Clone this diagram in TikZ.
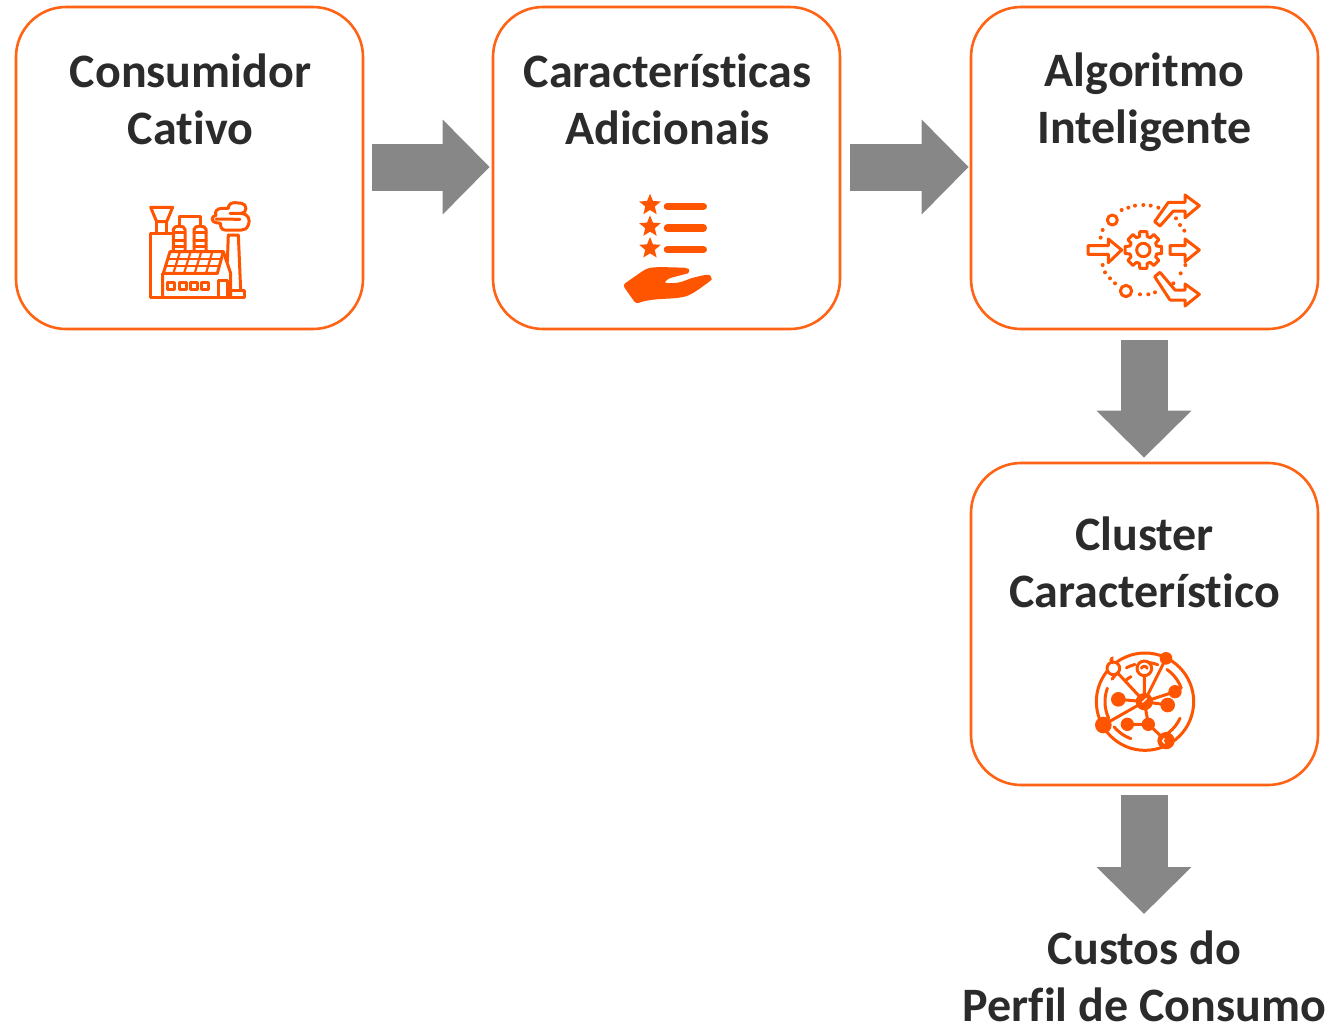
\documentclass[tikz,border=0pt]{standalone}
\usepackage{fontspec}
\setmainfont[Ligatures={NoCommon}]{Carlito}
\usetikzlibrary{arrows.meta}
\definecolor{boxorange}{HTML}{FF6314}
\definecolor{iconorange}{HTML}{FF5500}
\definecolor{textdark}{HTML}{2B2B2B}
\definecolor{arrowgray}{HTML}{878787}
\tikzset{
  x=1pt,y=-1pt,
  procbox/.style={draw=boxorange,line width=2.6pt,rounded corners=50pt,fill=white,minimum width=347pt,minimum height=322pt,inner sep=0pt},
  boxlabel/.style={font=\fontsize{48}{57}\selectfont\bfseries,text=textdark,align=center,inner sep=0pt},
  blockarrow/.style={draw=arrowgray,line width=47pt,-{Triangle[length=47pt,width=92pt,fill=arrowgray,color=arrowgray]}},
  icon/.style={draw=iconorange,line width=3pt,line join=round,line cap=round},
  iconthin/.style={icon,line width=2.2pt},
  dotmark/.style={fill=iconorange,draw=none},
}
\begin{document}
\begin{tikzpicture}
\useasboundingbox (0,0) rectangle (1327,1026);
\node[procbox] (consumidor) at (189.5,168) {};
\node[procbox] (caracteristicas) at (666.5,168) {};
\node[procbox] (algoritmo) at (1144.5,168) {};
\node[procbox] (cluster) at (1144.5,624) {};
\node[boxlabel] (tconsumidor) at (190.5,99.5) {Consumidor\\Cativo};
\node[boxlabel] (tcaract) at (667.5,99.5) {Características\\Adicionais};
\node[boxlabel] (talgo) at (1144.5,102.5) {Algoritmo\\Inteligente};
\node[boxlabel] (tcluster) at (1144.5,562) {Cluster\\Característico};
\node[boxlabel] (custos) at (1144.5,976) {Custos do\\Perfil de Consumo};
\coordinate (custostop) at (1144.5,930);

\draw[blockarrow,shorten <=8pt,shorten >=2pt] ([yshift=1pt]consumidor.east) -- ([yshift=1pt]caracteristicas.west);
\draw[blockarrow,shorten <=9pt,shorten >=1pt] ([yshift=1pt]caracteristicas.east) -- ([yshift=1pt]algoritmo.west);
\draw[blockarrow,shorten <=10pt,shorten >=4pt] ([xshift=-0.5pt]algoritmo.south) -- ([xshift=-0.5pt]cluster.north);
\draw[blockarrow,shorten <=9pt,shorten >=16pt] ([xshift=-0.5pt]cluster.south) -- ([xshift=-0.5pt]custostop);

% factory
\begin{scope}[shift={(130,190)},scale=1/3]
\draw[icon] (62,52) -- (128,52) -- (110,95) -- (80,95) -- cycle;
\draw[icon] (80,95) -- (80,130) (110,95) -- (110,130);
\draw[icon] (125,130) -- (60,130) -- (60,322) -- (342,322) -- (342,300) -- (305,300);
\draw[icon] (130,182) -- (130,118) .. controls (130,105) and (165,105) .. (165,118) -- (165,182);
\draw[icon] (192,182) -- (192,118) .. controls (192,105) and (228,105) .. (228,118) -- (228,182);
\draw[icon] (130,128) -- (165,128) (130,150) -- (165,150) (130,168) -- (165,168);
\draw[icon] (192,128) -- (228,128) (192,150) -- (228,150) (192,168) -- (228,168);
\draw[icon] (147,105) -- (147,78) -- (210,78) -- (210,105);
\draw[icon] (120,185) -- (280,185) -- (262,250) -- (100,250) -- cycle;
\draw[iconthin] (113,207) -- (273,207) (106,228) -- (268,228);
\draw[iconthin] (150,185) -- (130,250) (182,185) -- (162,250) (214,185) -- (194,250) (247,185) -- (228,250);
\draw[icon] (98,250) -- (98,322) (280,185) -- (302,250) -- (302,322);
\draw[icon] (265,322) -- (265,270) -- (292,270) -- (292,322);
\foreach \wx in {113,147,180,215} \draw[icon] (\wx,278) rectangle +(21,20);
\draw[icon] (295,135) -- (325,135) -- (332,300);
\draw[icon] (295,135) -- (292,215);
\draw[icon] (295,55) .. controls (295,42) and (305,38) .. (315,38) -- (335,40) .. controls (352,42) and (352,68) .. (335,70)
  .. controls (355,72) and (362,90) .. (355,105) .. controls (350,116) and (345,120) .. (335,120) -- (285,120)
  .. controls (275,120) and (270,110) .. (272,100) -- (258,98) .. controls (243,96) and (243,78) .. (258,76)
  .. controls (252,65) and (262,55) .. (275,55) -- (295,55);
\draw[icon] (258,87) -- (330,88) (300,70) -- (335,70);
\end{scope}

% stars and hand
\begin{scope}[shift={(610,190)},scale=1/3]
\foreach \sy in {45,110,175} {
  \begin{scope}[shift={(120,\sy)}]
  \fill[iconorange] (-90:34) -- (-54:15) -- (-18:34) -- (18:15) -- (54:34) -- (90:15) -- (126:34) -- (162:15) -- (198:34) -- (234:15) -- cycle;
  \end{scope}
  \draw[iconorange,line width=7.3pt,line cap=round] (172,\sy+4) -- (280,\sy+4);
}
\fill[iconorange,rounded corners=3pt] (38,285) -- (98,243) .. controls (125,228) and (160,232) .. (230,233)
  .. controls (240,240) and (235,250) .. (225,252) .. controls (205,258) and (185,262) .. (168,270)
  .. controls (165,276) and (170,279) .. (180,279) .. controls (205,280) and (225,272) .. (245,264)
  -- (288,254) .. controls (302,255) and (306,268) .. (298,275) .. controls (270,295) and (245,315) .. (215,322)
  .. controls (170,328) and (120,325) .. (78,342) -- cycle;
\end{scope}

% gear and arrows
\begin{scope}[shift={(1080,185)},scale=1/3]
\begin{scope}[shift={(190,195)}]
\draw[icon] (11:56) \foreach \t in {0,45,...,315} {
   -- (\t+11:56) -- (\t+16:42) -- (\t+29:42) -- (\t+34:56)} -- cycle;
\draw[icon] (0,0) circle (20);
\end{scope}
\draw[icon] (24,182) -- (85,182) -- (85,162) -- (125,195) -- (85,233) -- (85,208) -- (24,208) -- cycle;
\draw[icon] (270,182) -- (315,182) -- (315,162) -- (358,195) -- (315,230) -- (315,208) -- (270,208) -- cycle;
\draw[icon] (224,110) -- (265,52) -- (315,52) -- (315,30) -- (358,62) -- (315,98) -- (315,78) -- (280,78) -- (240,123) -- cycle;
\draw[icon] (224,275) -- (240,262) -- (285,315) -- (315,315) -- (315,297) -- (358,328) -- (315,363) -- (315,345) -- (270,345) -- cycle;
\draw[icon] (97,105) circle (15) (138,318) circle (17);
\foreach \dx/\dy in {125/75,145/68,165/62,190/60,212/62,235/68,288/100,300/120,313/137,68/135,62/158,68/240,75/262,90/280,105/295,180/328,205/328,225/322,316/240,302/265,280/295}
  \fill[dotmark] (\dx,\dy) circle (6);
\end{scope}

% cluster
\begin{scope}[shift={(1085,645)},scale=1/3]
\draw[icon] (180,170) circle (146);
\begin{scope}[shift={(178,170)}]
\draw[icon] (0,0) -- (0,-100) (0,0) -- (-93,-100) (0,0) -- (65,-130) (0,0) -- (92,-30) (0,0) -- (70,10) (0,0) -- (-78,-7) (0,0) -- (-123,70) (0,0) -- (12,68) (12,68) -- (-51,68) (12,68) -- (65,117);
\foreach \af/\at in {-85/-70,-55/-20,25/55,110/140,155/200,215/228} {
  \draw[icon] plot[domain=\af:\at,samples=12] (\x:118);
}
\draw[icon] plot[domain=-130:-118,samples=6] (\x:85);
\draw[icon] plot[domain=-118:-104,samples=6] (\x:115);
\fill[iconorange] (0,0) circle (26);
\fill[iconorange] (65,-130) circle (19) (92,-30) circle (20) (70,10) circle (22) (-78,-7) circle (22) (-123,70) circle (25) (12,68) circle (20) (-51,68) circle (20) (65,117) circle (26);
\fill[white] (0,-100) circle (22) (-93,-100) circle (19);
\draw[icon] (0,-100) circle (22) (-93,-100) circle (19);
\draw[icon] plot[domain=-160:-20,samples=10] ({9*cos(\x)},{-97+9*sin(\x)});
\fill[iconorange] (-93,-112) arc[start angle=90,end angle=270,radius=12] -- cycle;
\draw[white,line width=1.4pt] (60,110) -- (55,118) -- (61,125);
\draw[white,line width=1.4pt] (-6,2) -- (7,-10);
\end{scope}
\end{scope}
\end{tikzpicture}
\end{document}
